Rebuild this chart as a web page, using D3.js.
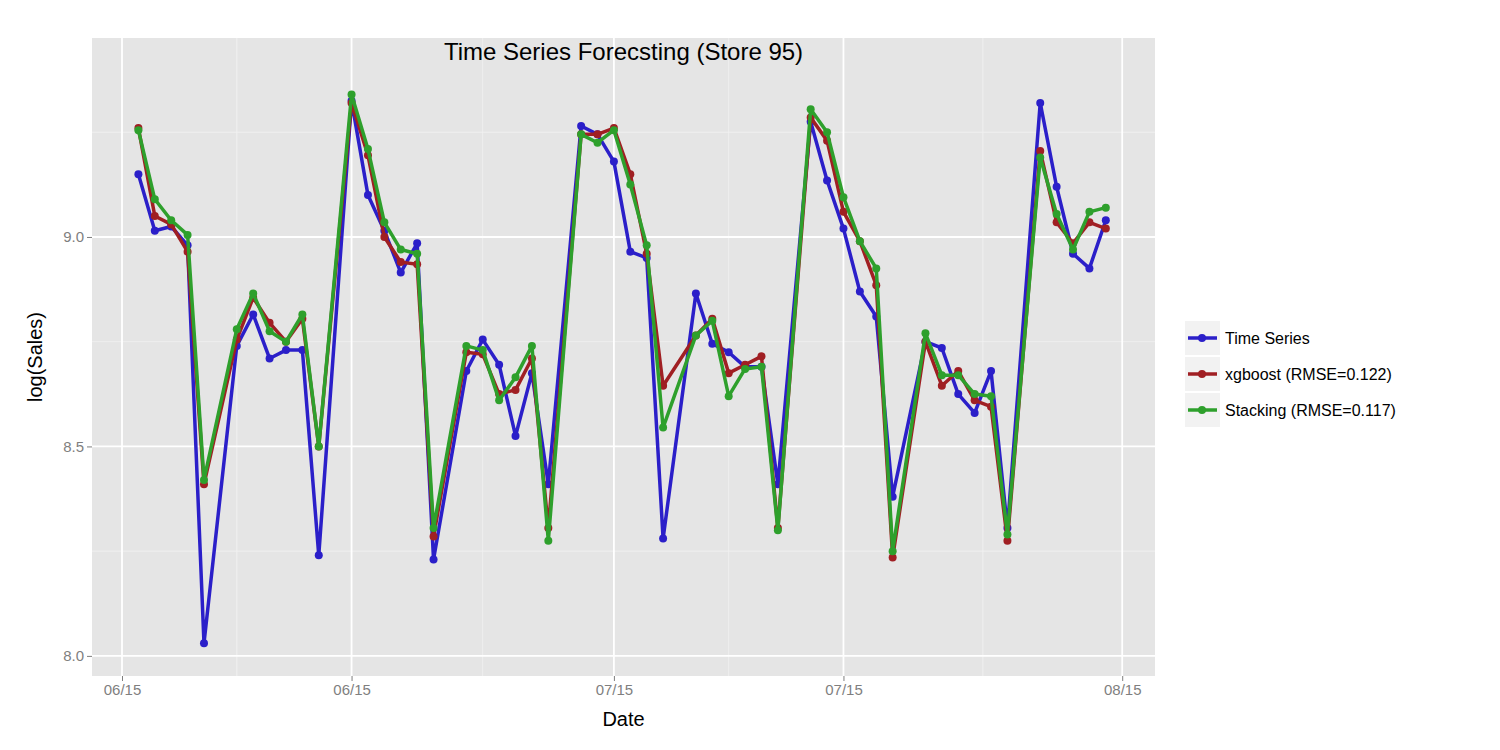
<!DOCTYPE html>
<html><head><meta charset="utf-8">
<script src="https://cdn.jsdelivr.net/npm/d3@7"></script>
<style>body{margin:0;background:#fff;font-family:"Liberation Sans",Arial,sans-serif}</style>
</head><body>
<svg id="chart" width="1500" height="750"></svg>
<script>
// day offsets from the first tick
var days = [1,2,3,4,5, 7,8,9,10,11,12, 14,15,16,17,18,19, 21,22,23,24,25,26,
  28,29,30,31,32,33, 35,36,37,38,39,40, 42,43,44,45,46,47, 49,50,51,52,53,54, 56,57,58,59,60];
var timeSeries = [9.15,9.015,9.025,8.98,8.03, 8.74,8.815,8.71,8.73,8.73,8.24,
  9.325,9.10,9.015,8.915,8.985,8.23, 8.68,8.755,8.695,8.525,8.675,8.41,
  9.265,9.245,9.18,8.965,8.95,8.28, 8.865,8.745,8.725,8.69,8.69,8.41,
  9.275,9.135,9.02,8.87,8.81,8.38, 8.75,8.735,8.625,8.58,8.68,8.305,
  9.32,9.12,8.96,8.925,9.04];
var xgboost = [9.26,9.05,9.03,8.965,8.41, 8.755,8.855,8.795,8.75,8.805,8.5,
  9.32,9.195,9.0,8.94,8.935,8.285, 8.725,8.72,8.625,8.635,8.71,8.305,
  9.245,9.245,9.26,9.15,8.96,8.645, 8.765,8.805,8.675,8.695,8.715,8.305,
  9.285,9.23,9.06,8.99,8.885,8.235, 8.75,8.645,8.68,8.61,8.595,8.275,
  9.205,9.035,8.985,9.035,9.02];
var stacking = [9.255,9.09,9.04,9.005,8.42, 8.78,8.865,8.775,8.75,8.815,8.5,
  9.34,9.21,9.035,8.97,8.96,8.305, 8.74,8.73,8.61,8.665,8.74,8.275,
  9.245,9.225,9.255,9.125,8.98,8.545, 8.765,8.80,8.62,8.685,8.69,8.30,
  9.305,9.25,9.095,8.99,8.925,8.25, 8.77,8.67,8.67,8.625,8.62,8.29,
  9.19,9.055,8.97,9.06,9.07];
var tickDays = [0,14,30,44,61];
var tickLabels = ["06/15","06/15","07/15","07/15","08/15"];
var yTicks = [8.0,8.5,9.0];
var seriesNames = ["Time Series","xgboost (RMSE=0.122)","Stacking (RMSE=0.117)"];
var colors = ["#2b1fc9","#a01f23","#2ea02c"];

var svg = d3.select("#chart");
var L = 92, R = 1155, T = 38, B = 676;
var x = d3.scaleLinear().domain([-1.83, 63]).range([L, R]);
var y = d3.scaleLinear().domain([7.952, 9.475]).range([B, T]);

svg.append("rect").attr("x", L).attr("y", T).attr("width", R - L).attr("height", B - T).attr("fill", "#e5e5e5");
// minor grid
var minorX = tickDays.slice(1).map(function(d, i){ return (d + tickDays[i]) / 2; });
var minorY = [8.25, 8.75, 9.25];
svg.selectAll(".mx").data(minorX).enter().append("line")
  .attr("x1", x).attr("x2", x).attr("y1", T).attr("y2", B).attr("stroke", "#f2f2f2").attr("stroke-width", 0.8);
svg.selectAll(".my").data(minorY).enter().append("line")
  .attr("y1", y).attr("y2", y).attr("x1", L).attr("x2", R).attr("stroke", "#f2f2f2").attr("stroke-width", 0.8);
svg.selectAll(".gx").data(tickDays).enter().append("line")
  .attr("x1", x).attr("x2", x).attr("y1", T).attr("y2", B).attr("stroke", "#fff").attr("stroke-width", 1.8);
svg.selectAll(".gy").data(yTicks).enter().append("line")
  .attr("y1", y).attr("y2", y).attr("x1", L).attr("x2", R).attr("stroke", "#fff").attr("stroke-width", 1.8);

// axes
var xAxis = d3.axisBottom(x).tickValues(tickDays).tickSize(5).tickFormat(function(d, i){ return tickLabels[i]; });
var gx = svg.append("g").attr("transform", "translate(0," + B + ")").call(xAxis);
var yAxis = d3.axisLeft(y).tickValues(yTicks).tickSize(5).tickFormat(d3.format(".1f"));
var gy = svg.append("g").attr("transform", "translate(" + L + ",0)").call(yAxis);
[gx, gy].forEach(function(g){
  g.select(".domain").remove();
  g.selectAll("line").attr("stroke", "#7f7f7f");
  g.selectAll("text").attr("fill", "#7f7f7f").attr("font-size", 15).attr("font-family", "Liberation Sans, Arial");
});

// series
var all = [timeSeries, xgboost, stacking];
var line = d3.line().x(function(d, i){ return x(days[i]); }).y(function(d){ return y(d); });
all.forEach(function(s, k){
  svg.append("path").datum(s).attr("d", line).attr("fill", "none")
    .attr("stroke", colors[k]).attr("stroke-width", 3.5).attr("stroke-linejoin", "round");
  svg.selectAll(".p" + k).data(s).enter().append("circle")
    .attr("cx", function(d, i){ return x(days[i]); }).attr("cy", y).attr("r", 4).attr("fill", colors[k]);
});

// titles
svg.append("text").attr("x", (L + R) / 2).attr("y", 60).attr("text-anchor", "middle").attr("font-size", 24).text("Time Series Forecsting (Store 95)");
svg.append("text").attr("x", (L + R) / 2).attr("y", 726).attr("text-anchor", "middle").attr("font-size", 20).text("Date");
svg.append("text").attr("transform", "translate(42," + (T + B) / 2 + ") rotate(-90)").attr("text-anchor", "middle").attr("font-size", 20).text("log(Sales)");

// legend
seriesNames.forEach(function(n, k){
  var cy = 338 + k * 36;
  svg.append("rect").attr("x", 1185).attr("y", cy - 17).attr("width", 35).attr("height", 34).attr("fill", "#f2f2f2");
  svg.append("line").attr("x1", 1188).attr("x2", 1217).attr("y1", cy).attr("y2", cy).attr("stroke", colors[k]).attr("stroke-width", 3.5);
  svg.append("circle").attr("cx", 1202).attr("cy", cy).attr("r", 4).attr("fill", colors[k]);
  svg.append("text").attr("x", 1225).attr("y", cy + 6).attr("font-size", 16).text(n);
});
</script>
</body></html>
